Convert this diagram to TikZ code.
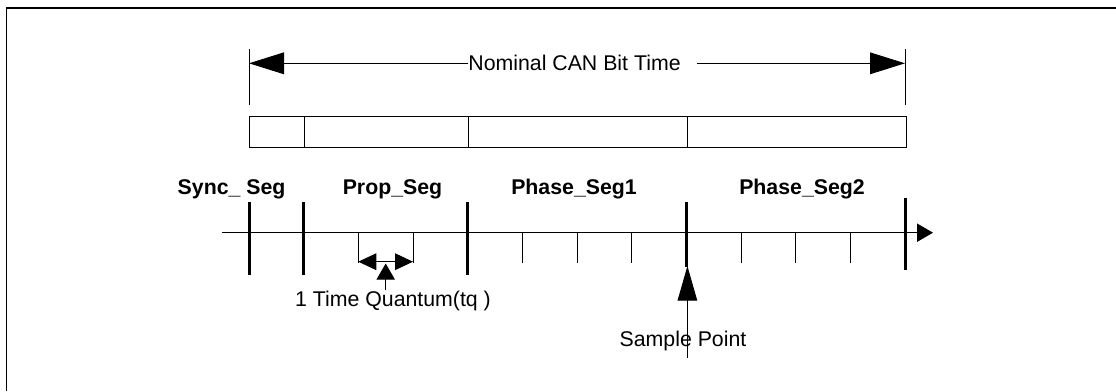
\documentclass[tikz,border=0pt]{standalone}
\usepackage{fontspec}
\setmainfont{Liberation Sans}
\usetikzlibrary{arrows.meta}
\begin{document}
\begin{tikzpicture}[x=1pt,y=-1pt,
  every node/.style={inner sep=0pt, text height=15.25pt, text depth=0pt, font=\fontsize{21.3}{25}\selectfont},
  lbl/.style={font=\fontsize{21.3}{25}\selectfont\bfseries},
  ln/.style={line width=1pt},
  bar/.style={line width=3pt},
  frm/.style={line width=1.6pt},
  bigtip/.style={-{Triangle[length=35pt,width=21.7pt]}},
  axtip/.style={-{Triangle[length=16pt,width=18.3pt]}},
  qtip/.style={{Triangle[length=18pt,width=16.7pt]}-{Triangle[length=18pt,width=16.7pt]}},
  uptip/.style={-{Triangle[length=16pt,width=18.2pt]}},
  sptip/.style={-{Triangle[length=34.7pt,width=19.6pt]}},
]
\useasboundingbox (0,0) rectangle (1116,391);
% frame
\draw[frm] (6.4,391) -- (6.4,8) -- (1116,8);

% nominal bit time dimension
\coordinate (dl) at (249,63.3);
\coordinate (dr) at (905,63.3);
\draw[ln] (249,49.3) -- (249,105);
\draw[ln] (905,49.3) -- (905,105);
\node (nom) at (574.5,63.3) {Nominal CAN Bit Time};
\draw[ln, bigtip] (nom.west) -- (dl);
\draw[ln, bigtip] ([xshift=16pt]nom.east) -- (dr);

% segment box
\draw[ln] (249,116.7) rectangle (304.6,147.3);
\draw[ln] (304.6,116.7) rectangle (468,147.3);
\draw[ln] (468,116.7) rectangle (687,147.3);
\draw[ln] (687,116.7) rectangle (906,147.3);

% segment labels
\node[lbl, anchor=base] (sync) at (231.6,194.3) {Sync\_ Seg};
\node[lbl, anchor=base] (prop) at (392.5,194.3) {Prop\_Seg};
\node[lbl, anchor=base] (ph1) at (574,194.3) {Phase\_Seg1};
\node[lbl, anchor=base] (ph2) at (802,194.3) {Phase\_Seg2};

% time axis
\coordinate (a0) at (222,232.7);
\coordinate (a1) at (933,232.7);
\draw[ln, axtip] (a0) -- (a1);

% thick segment boundaries
\foreach \i in {0,1,4} {
  \draw[bar] ({249+\i*54.67},202.3) -- ({249+\i*54.67},275);
}
\draw[bar] (686.4,202.3) -- (686.4,267);
\draw[bar] (905,198.3) -- (905,270);

% thin quantum ticks
\foreach \i in {2,3,5,6,7,9,10,11} {
  \draw[ln] ({249+\i*54.67},232.7) -- ({249+\i*54.67},262.7);
}

% one time quantum
\coordinate (q1) at (358.3,261.7);
\coordinate (q2) at (413,261.7);
\draw[ln, qtip] (q1) -- (q2);
\node (tq) at (393,299.2) {1 Time Quantum(tq )};
\coordinate (tqs) at (385.7,290);
\coordinate (tqe) at (385.7,263.5);
\draw[ln, uptip] (tqs) -- (tqe);

% sample point
\node (sp) at (683,339.2) {Sample Point};
\coordinate (sps) at (687.4,358.3);
\coordinate (spe) at (687.4,266);
\draw[ln, sptip] (sps) -- (spe);
\end{tikzpicture}
\end{document}
